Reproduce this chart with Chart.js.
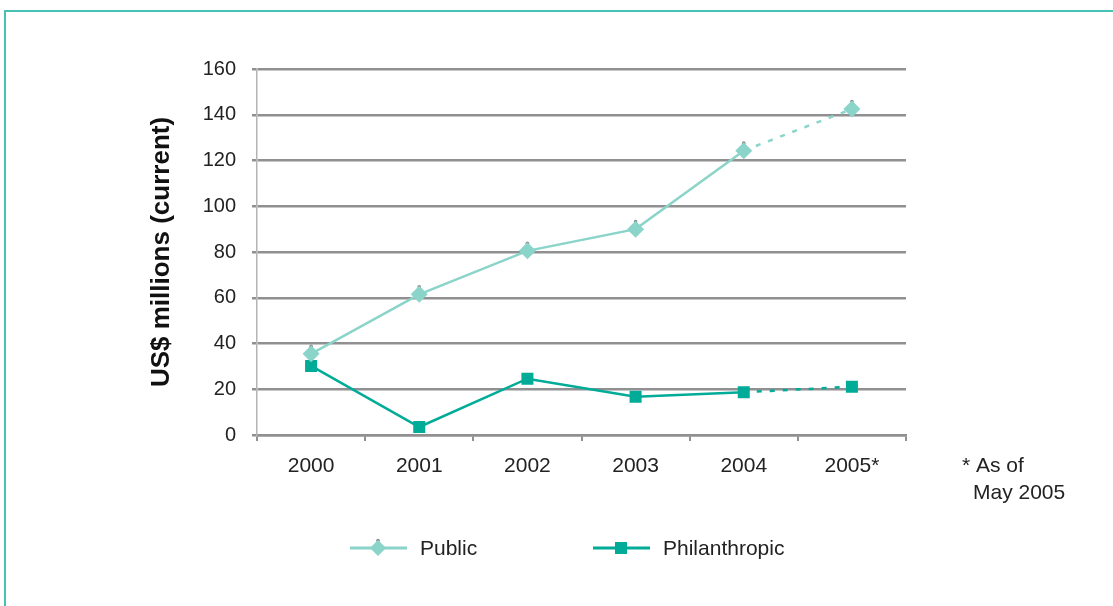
<!DOCTYPE html>
<html>
<head>
<meta charset="utf-8">
<script src="https://cdn.jsdelivr.net/npm/chart.js@4/dist/chart.umd.min.js"></script>
<style>
 html,body{margin:0;padding:0;background:#fff;}
 #wrap{position:relative;width:1113px;height:606px;overflow:hidden;}
 #frame{position:absolute;left:4px;top:10px;width:1200px;height:700px;border-top:2px solid #45c2b3;border-left:2px solid #45c2b3;pointer-events:none;}
 canvas{position:absolute;left:0;top:0;}
</style>
</head>
<body>
<div id="wrap">
 <canvas id="fundChart" width="1113" height="606"></canvas>
 <div id="frame"></div>
</div>
<script>
const years=['2000','2001','2002','2003','2004','2005*'];
const publicFunds=[35.5,61.5,80.5,90,124.3,142.5];
const philanthropicFunds=[30.2,3.5,24.6,16.7,18.7,21.1];
const yTicks=[0,20,40,60,80,100,120,140,160];
const footnote=['* As of','May 2005'];

const FONT='"Liberation Sans", Arial, sans-serif';
const PUBLIC_C='#8ad4ca', PHIL_C='#00ab98', GRID_C='#909092';

// last segment (to 2005) is a partial-year estimate, drawn dashed
const dashLast=ctx=>ctx.p1DataIndex===years.length-1?[5,8]:undefined;

// legend, footnote and the little grey cap behind the diamond markers
const extras={
 id:'extras',
 beforeDatasetsDraw(chart){
   const c=chart.ctx; c.save(); c.fillStyle='#8a8a8c';
   chart.getDatasetMeta(0).data.forEach(p=>{c.beginPath();c.arc(p.x,p.y-7.5,1.8,0,Math.PI*2);c.fill();});
   c.restore();
 },
 afterDraw(chart){
   const c=chart.ctx; c.save();
   const y=548;
   const items=[{x:350,ds:chart.data.datasets[0],shape:'diamond'},{x:593,ds:chart.data.datasets[1],shape:'square'}];
   items.forEach(it=>{
     c.strokeStyle=it.ds.borderColor; c.lineWidth=3;
     c.beginPath(); c.moveTo(it.x,y); c.lineTo(it.x+57,y); c.stroke();
     const mx=it.x+28;
     if(it.shape==='diamond'){c.fillStyle='#8a8a8c';c.beginPath();c.arc(mx,y-7.5,1.8,0,Math.PI*2);c.fill();}
     c.fillStyle=it.ds.backgroundColor; c.beginPath();
     if(it.shape==='diamond'){c.moveTo(mx,y-8);c.lineTo(mx+8,y);c.lineTo(mx,y+8);c.lineTo(mx-8,y);c.closePath();}
     else c.rect(mx-6,y-6,12,12);
     c.fill();
     c.fillStyle='#222'; c.font='21px '+FONT; c.textBaseline='middle'; c.textAlign='left';
     c.fillText(it.ds.label,it.x+70,y+1);
   });
   c.fillText(footnote[0],962,466);
   c.fillText(footnote[1],973,493);
   c.restore();
 }
};

new Chart(document.getElementById('fundChart'),{
 type:'line',
 data:{labels:years,datasets:[
   {label:'Public',data:publicFunds,borderColor:PUBLIC_C,backgroundColor:PUBLIC_C,borderWidth:2.5,
    pointStyle:'rectRot',pointRadius:8.5,pointBorderWidth:0,tension:0,segment:{borderDash:dashLast}},
   {label:'Philanthropic',data:philanthropicFunds,borderColor:PHIL_C,backgroundColor:PHIL_C,borderWidth:2.5,
    pointStyle:'rect',pointRadius:8.5,pointBorderWidth:0,tension:0,segment:{borderDash:dashLast}}
 ]},
 options:{
   responsive:false,animation:false,devicePixelRatio:1,
   layout:{padding:{top:69,right:207,left:0,bottom:0}},
   plugins:{legend:{display:false},tooltip:{enabled:false}},
   scales:{
     x:{offset:true,
        grid:{offset:true,drawOnChartArea:false,drawTicks:true,tickLength:6,color:GRID_C,lineWidth:2},
        border:{display:true,color:GRID_C,width:2.5},
        ticks:{color:'#222',font:{family:FONT,size:21},padding:13},
        afterFit:s=>{s.height=171;}},
     y:{min:0,max:160,
        afterBuildTicks:s=>{s.ticks=yTicks.map(v=>({value:v}));},
        grid:{color:GRID_C,lineWidth:2.5,drawTicks:true,tickLength:5},
        border:{display:true,color:'#b4b4b6',width:1.5},
        ticks:{color:'#222',font:{family:FONT,size:20},padding:16},
        title:{display:true,text:'US$ millions (current)',color:'#111',font:{family:FONT,size:26,weight:'bold'},padding:{top:146,bottom:0}},
        afterFit:s=>{s.width=257;}}
   }
 },
 plugins:[extras]
});
</script>
</body>
</html>
